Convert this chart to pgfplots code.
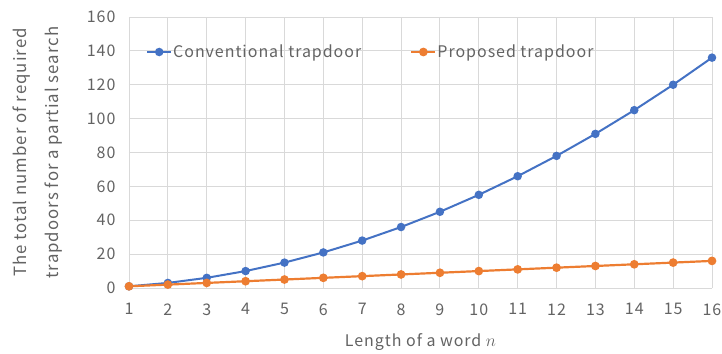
\documentclass[border=0pt]{standalone}
\usepackage{fontspec}
\setmainfont[LetterSpace=6]{Noto Sans CJK JP}
\usepackage{pgfplots}
\pgfplotsset{compat=1.18}
\definecolor{convblue}{HTML}{4472C4}
\definecolor{proporange}{HTML}{ED7D31}
\definecolor{gridgray}{HTML}{D9D9D9}
\definecolor{textgray}{HTML}{636363}
\begin{document}
\fontsize{16}{19}\selectfont
\begin{tikzpicture}
\useasboundingbox (-129pt,-65pt) rectangle (593pt,288pt);
\begin{axis}[
    at={(0,0)}, anchor=south west,
    scale only axis,
    width=583pt, height=271pt,
    xmin=1, xmax=16, ymin=0, ymax=160,
    xtick={1,...,16}, ytick={0,20,...,160},
    grid=major,
    major grid style={gridgray, line width=0.9pt},
    axis line style={draw=none},
    extra y ticks={0}, extra y tick labels={},
    extra y tick style={grid style={gridgray!80!gray, line width=1pt}},
    tick style={draw=none},
    ticklabel style={text=textgray, font=\fontsize{16}{19}\selectfont},
    /pgf/number format/assume math mode=true,
    xticklabel style={yshift=-10pt},
    yticklabel style={xshift=-8pt},
    xlabel={Length of a word $n$},
    xlabel style={text=textgray, font=\fontsize{16}{19}\selectfont, at={(axis description cs:0.5,0)}, anchor=center, yshift=-54pt},
    ylabel={The total number of required\\[12pt]trapdoors for a partial search},
    ylabel style={text=textgray, font=\fontsize{16.8}{20}\selectfont, align=center, at={(axis description cs:-0.157,0.5)}, anchor=center},
    legend columns=2,
    legend style={draw=none, fill=none, at={(14pt,236pt)}, anchor=west,
        font=\fontsize{16}{19}\selectfont, text=textgray,
        /tikz/every even column/.append style={column sep=48pt},
        /tikz/nodes={inner sep=1pt}},
    legend cell align=left,
    legend image code/.code={
        \draw[mark repeat=2,mark phase=2] plot coordinates {(0pt,0pt)(12pt,0pt)(24pt,0pt)};},
    clip=false,
]
\addplot[convblue, line width=2pt, mark=*, mark size=3.2pt, mark options={fill=convblue, draw=convblue}]
coordinates {(1,1)(2,3)(3,6)(4,10)(5,15)(6,21)(7,28)(8,36)(9,45)(10,55)(11,66)(12,78)(13,91)(14,105)(15,120)(16,136)};
\addlegendentry{Conventional trapdoor}
\addplot[proporange, line width=2.2pt, mark=*, mark size=3.2pt, mark options={fill=proporange, draw=proporange}]
coordinates {(1,1)(2,2)(3,3)(4,4)(5,5)(6,6)(7,7)(8,8)(9,9)(10,10)(11,11)(12,12)(13,13)(14,14)(15,15)(16,16)};
\addlegendentry{Proposed trapdoor}
\end{axis}
\end{tikzpicture}
\end{document}
